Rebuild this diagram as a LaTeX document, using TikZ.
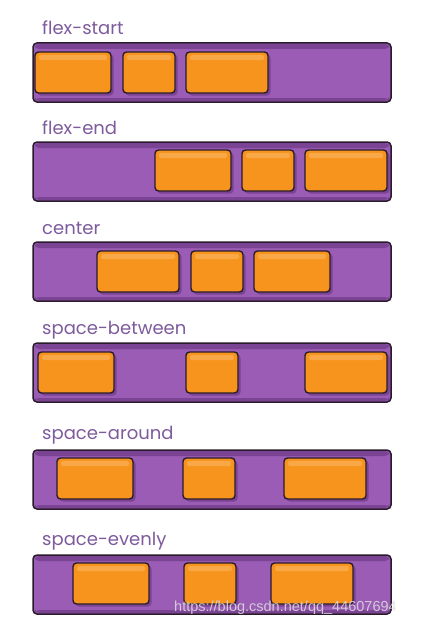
\documentclass[tikz,border=0pt]{standalone}
\usepackage{fontspec}
\setmainfont{Poppins}
\newfontfamily\wmfont{Liberation Sans}
\definecolor{cpurple}{HTML}{9A5CB4}
\definecolor{cpurpledk}{HTML}{7A4393}
\definecolor{corange}{HTML}{F7941E}
\definecolor{corangehi}{HTML}{F9A848}
\definecolor{cline}{HTML}{2A1B2C}
\definecolor{ctext}{HTML}{7E5B9D}
\begin{document}
\begin{tikzpicture}[x=1pt,y=-1pt,
  lbl/.style={anchor=base west,inner sep=0pt,text=ctext,font=\fontsize{18}{20}\selectfont},
  flexbox/.style={anchor=north west,inner sep=0pt,outer sep=0pt,draw=cline,line width=1.5pt,
    fill=cpurple,rounded corners=4pt,minimum width=358pt,minimum height=59pt,
    path picture={\fill[cpurpledk] ([xshift=2pt,yshift=-1pt]path picture bounding box.north west) rectangle ([xshift=-2pt,yshift=-6pt]path picture bounding box.north east);
                  \fill[cpurpledk] ([xshift=2pt,yshift=1pt]path picture bounding box.south west) rectangle ([xshift=-2pt,yshift=4pt]path picture bounding box.south east);}},
  item/.style={anchor=north west,inner sep=0pt,outer sep=0pt,draw=cline,line width=1.4pt,
    fill=corange,rounded corners=3.5pt,minimum height=41pt,
    path picture={\fill[corangehi,rounded corners=2pt] ([xshift=4pt,yshift=-3pt]path picture bounding box.north west) rectangle ([xshift=-4pt,yshift=-8pt]path picture bounding box.north east);},
    preaction={fill=cpurpledk,transform canvas={shift={(2.5pt,-2.5pt)}}}},
  w76/.style={item,minimum width=76pt},
  w52/.style={item,minimum width=52pt},
  w82/.style={item,minimum width=82pt},
]
\useasboundingbox[fill=white] (0,0) rectangle (435,618);

% flex-start
\node[lbl] (l1) at (42,35) {flex-start};
\node[flexbox] (c1) at (33,43) {};
\node[w76] (b11) at (35,52) {};
\node[w52] (b12) at (123,52) {};
\node[w82] (b13) at (186,52) {};

% flex-end
\node[lbl] (l2) at (42,134) {flex-end};
\node[flexbox] (c2) at (33,142) {};
\node[w76] (b21) at (155,150) {};
\node[w52] (b22) at (242,150) {};
\node[w82] (b23) at (305,150) {};

% center
\node[lbl] (l3) at (42,234) {center};
\node[flexbox] (c3) at (33,242) {};
\node[w82] (b31) at (97,251) {};
\node[w52] (b32) at (191,251) {};
\node[w76] (b33) at (254,251) {};

% space-between
\node[lbl] (l4) at (42,334) {space-between};
\node[flexbox] (c4) at (33,343) {};
\node[w76] (b41) at (38,352) {};
\node[w52] (b42) at (186,352) {};
\node[w82] (b43) at (305,352) {};

% space-around
\node[lbl] (l5) at (42,439) {space-around};
\node[flexbox] (c5) at (33,450) {};
\node[w76] (b51) at (57,458) {};
\node[w52] (b52) at (183,458) {};
\node[w82] (b53) at (284,458) {};

% space-evenly
\node[lbl] (l6) at (42,545) {space-evenly};
\node[flexbox] (c6) at (33,555) {};
\node[w76] (b61) at (73,563) {};
\node[w52] (b62) at (184,563) {};
\node[w82] (b63) at (271,563) {};

% watermark
\node[anchor=base west,inner sep=0pt,text=gray!25,opacity=0.85,font=\wmfont\fontsize{14.5}{16}\selectfont] (wm) at (174,611) {https://blog.csdn.net/qq\_44607694};
\end{tikzpicture}
\end{document}
